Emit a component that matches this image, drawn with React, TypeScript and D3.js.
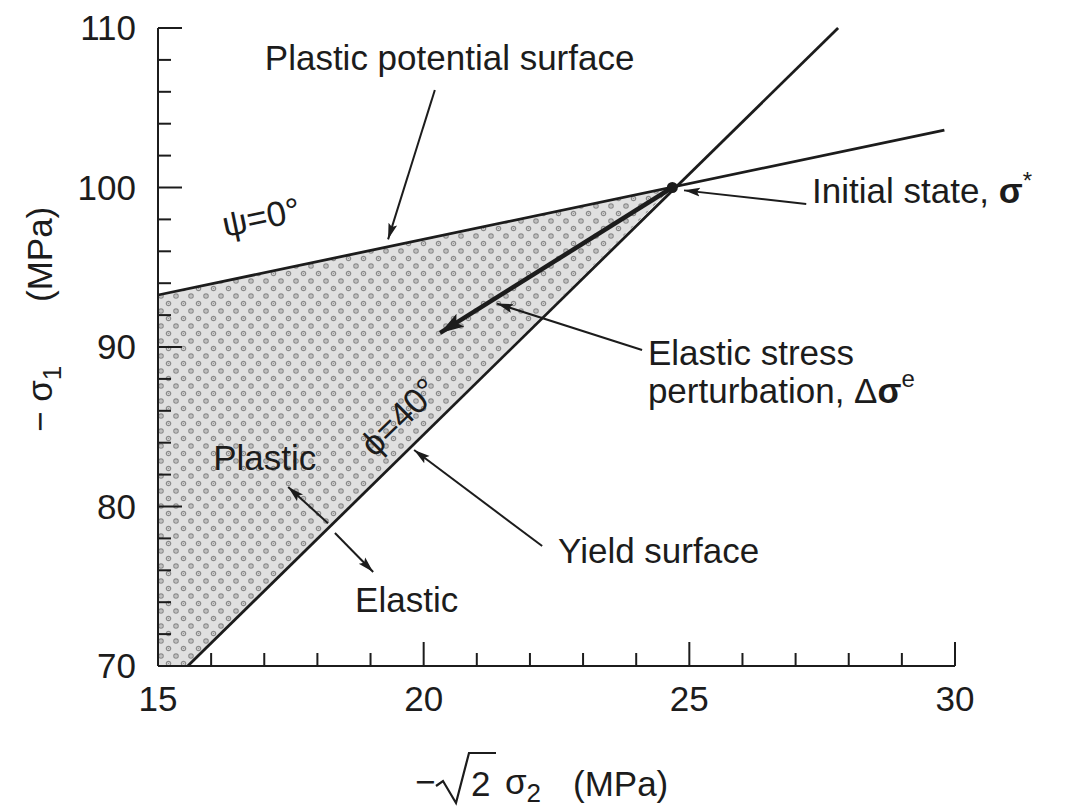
import React from "react";
import * as d3 from "d3";

// Axis extents and ticks (MPa)
const xDomain: [number, number] = [15, 30];
const yDomain: [number, number] = [70, 110];
const xMajorTicks = [15, 20, 25, 30];
const xMinorTicks = [16, 17, 18, 19, 21, 22, 23, 24, 26, 27, 28, 29];
const yMajorTicks = [70, 80, 90, 100, 110];
const yMinorTicks = [72, 74, 76, 78, 82, 84, 86, 88, 92, 94, 96, 98, 102, 104, 106, 108];

// Stress states and surfaces
const initialState = { x: 24.68, y: 100 };
const yieldSurface = [
  { x: 15.56, y: 70 },
  { x: 27.8, y: 110 },
];
const plasticPotential = [
  { x: 15, y: 93.26 },
  { x: 29.8, y: 103.6 },
];
const perturbationEnd = { x: 20.31, y: 90.88 };
const plasticRegion = [
  { x: 15, y: 70 },
  { x: 15.56, y: 70 },
  { x: 24.68, y: 100 },
  { x: 15, y: 93.26 },
];

// Annotation anchors in data coordinates
const labelArrows = [
  { from: { x: 20.21, y: 106.11 }, to: { x: 19.33, y: 96.75 } },
  { from: { x: 27.2, y: 98.97 }, to: { x: 24.9, y: 99.82 } },
  { from: { x: 24.11, y: 89.81 }, to: { x: 21.38, y: 92.72 } },
  { from: { x: 22.23, y: 77.52 }, to: { x: 19.82, y: 83.54 } },
  { from: { x: 18.2, y: 78.95 }, to: { x: 17.45, y: 81.22 } },
  { from: { x: 18.33, y: 78.34 }, to: { x: 19.05, y: 75.89 } },
];

const W = 1089;
const H = 811;
const FONT = "'Liberation Sans', Arial, Helvetica, sans-serif";
const INK = "#1c1c1c";

export default function App() {
  const x = d3.scaleLinear().domain(xDomain).range([158, 955]);
  const y = d3.scaleLinear().domain(yDomain).range([666, 28]);
  const line = d3
    .line<{ x: number; y: number }>()
    .x((d) => x(d.x))
    .y((d) => y(d.y));

  const angleOf = (pts: { x: number; y: number }[]) =>
    (Math.atan2(y(pts[1].y) - y(pts[0].y), x(pts[1].x) - x(pts[0].x)) * 180) / Math.PI;
  const yieldAngle = angleOf(yieldSurface);
  const potentialAngle = angleOf(plasticPotential);

  const txt = {
    fontFamily: FONT,
    fontSize: 35,
    fill: INK,
  } as const;

  return (
    <svg
      width={W}
      height={H}
      viewBox={`0 0 ${W} ${H}`}
      style={{ position: "absolute", left: 0, top: 0, background: "#fff" }}
    >
      <defs>
        <pattern id="stipple" width={15} height={15} patternUnits="userSpaceOnUse">
          <rect width={15} height={15} fill="#e0e0e0" />
          <circle cx={3.5} cy={3.5} r={2.2} fill="none" stroke="#8a8a8a" strokeWidth={1.2} />
          <circle cx={3.5} cy={3.5} r={0.8} fill="#969696" />
          <circle cx={11} cy={11} r={2.2} fill="none" stroke="#8a8a8a" strokeWidth={1.2} />
          <circle cx={11} cy={11} r={0.8} fill="#969696" />
        </pattern>
        <marker
          id="headThin"
          markerUnits="userSpaceOnUse"
          markerWidth={18}
          markerHeight={12}
          refX={16}
          refY={6}
          orient="auto"
        >
          <path d="M0,1.5 L16,6 L0,10.5 L3,6 Z" fill={INK} />
        </marker>
        <marker
          id="headThick"
          markerUnits="userSpaceOnUse"
          markerWidth={26}
          markerHeight={18}
          refX={24}
          refY={9}
          orient="auto"
        >
          <path d="M0,1.5 L24,9 L0,16.5 L5,9 Z" fill={INK} />
        </marker>
      </defs>

      {/* plastic (inadmissible) region */}
      <path d={line(plasticRegion)! + "Z"} fill="url(#stipple)" stroke="none" />

      {/* axes */}
      <g stroke={INK} strokeWidth={2} fill="none">
        <line x1={x(xDomain[0])} x2={x(xDomain[1])} y1={y(yDomain[0])} y2={y(yDomain[0])} />
        <line x1={x(xDomain[0])} x2={x(xDomain[0])} y1={y(yDomain[0])} y2={y(yDomain[1])} />
        {xMajorTicks.map((t) => (
          <line key={"xM" + t} x1={x(t)} x2={x(t)} y1={y(yDomain[0])} y2={y(yDomain[0]) - 24} />
        ))}
        {xMinorTicks.map((t) => (
          <line key={"xm" + t} x1={x(t)} x2={x(t)} y1={y(yDomain[0])} y2={y(yDomain[0]) - 13} />
        ))}
        {yMajorTicks.map((t) => (
          <line key={"yM" + t} x1={x(xDomain[0])} x2={x(xDomain[0]) + 24} y1={y(t)} y2={y(t)} />
        ))}
        {yMinorTicks.map((t) => (
          <line key={"ym" + t} x1={x(xDomain[0])} x2={x(xDomain[0]) + 13} y1={y(t)} y2={y(t)} />
        ))}
      </g>

      {/* tick labels */}
      {xMajorTicks.map((t) => (
        <text key={"xl" + t} {...txt} x={x(t)} y={y(yDomain[0]) + 45} textAnchor="middle">
          {t}
        </text>
      ))}
      {yMajorTicks.map((t) => (
        <text key={"yl" + t} {...txt} x={x(xDomain[0]) - 22} y={y(t) + 12} textAnchor="end">
          {t}
        </text>
      ))}

      {/* axis titles */}
      <g {...txt}>
        <text x={415} y={794}>−</text>
        <path d="M436,786 L443,781 L456,803 L469,753 L496,753" fill="none" stroke={INK} strokeWidth={2.2} />
        <text x={471} y={796}>2</text>
        <text x={505} y={794}>
          σ<tspan fontSize={26} dy={8}>2</tspan>
        </text>
        <text x={573} y={796}>(MPa)</text>
      </g>
      <g transform="translate(52,0) rotate(-90)">
        <text {...txt} x={-432}>
          − σ<tspan fontSize={26} dy={9}>1</tspan>
        </text>
        <text {...txt} x={-302}>(MPa)</text>
      </g>

      {/* surfaces */}
      <path d={line(plasticPotential)!} stroke={INK} strokeWidth={2.8} fill="none" />
      <path d={line(yieldSurface)!} stroke={INK} strokeWidth={2.8} fill="none" />

      {/* elastic stress perturbation */}
      <path
        d={line([initialState, perturbationEnd])!}
        stroke={INK}
        strokeWidth={4.5}
        fill="none"
        markerEnd="url(#headThick)"
      />
      <circle cx={x(initialState.x)} cy={y(initialState.y)} r={5.5} fill={INK} />

      {/* label leaders */}
      {labelArrows.map((a, i) => (
        <path
          key={"la" + i}
          d={line([a.from, a.to])!}
          stroke={INK}
          strokeWidth={2}
          fill="none"
          markerEnd="url(#headThin)"
        />
      ))}

      {/* labels */}
      <text {...txt} x={x(17.01)} y={y(107.37)}>
        Plastic potential surface
      </text>
      <text {...txt} transform={`translate(${x(16.26)},${y(96.9)}) rotate(${potentialAngle})`}>
        ψ=0°
      </text>
      <text {...txt} x={x(27.31)} y={y(99.03)}>
        Initial state, <tspan fontWeight="bold">σ</tspan>
        <tspan fontSize={24} dy={-14}>*</tspan>
      </text>
      <text {...txt} x={x(24.22)} y={y(88.87)}>
        Elastic stress
      </text>
      <text {...txt} x={x(24.22)} y={y(88.87) + 38}>
        perturbation, Δ<tspan fontWeight="bold">σ</tspan>
        <tspan fontSize={24} dy={-16}>e</tspan>
      </text>
      <text {...txt} x={x(22.53)} y={y(76.46)}>
        Yield surface
      </text>
      <text
        {...txt}
        textAnchor="middle"
        transform={`translate(${x(19.54)},${y(85.61)}) rotate(${yieldAngle})`}
        dy={12}
      >
        ϕ=40°
      </text>
      <text {...txt} x={x(16.04)} y={y(82.29)}>
        Plastic
      </text>
      <text {...txt} x={x(18.71)} y={y(73.39)}>
        Elastic
      </text>
    </svg>
  );
}
